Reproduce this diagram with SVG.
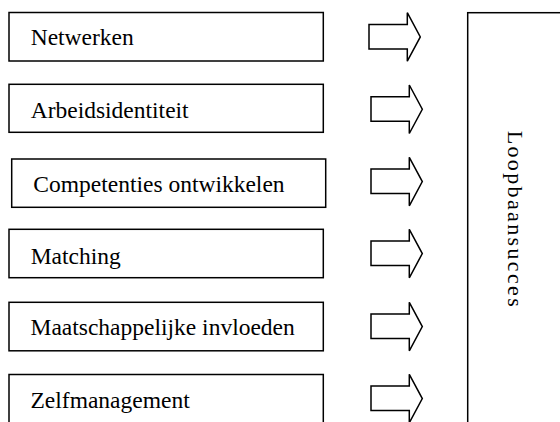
<svg xmlns="http://www.w3.org/2000/svg" xmlns:xlink="http://www.w3.org/1999/xlink" width="560" height="422" viewBox="0 0 560 422">
<style>
.box{fill:#fff;stroke:#000;stroke-width:1.5}
.arrow{fill:#fff;stroke:#000;stroke-width:1.5;stroke-linejoin:miter}
.t{font-family:'Liberation Serif','DejaVu Serif',Times,serif;font-size:23.5px;fill:#000}
</style>
<defs>
<path id="bigArrow" class="arrow" d="M0,11.7 H38.3 V0 L51.3,24.25 L38.3,48.5 V36.3 H0 Z"/>
</defs>
<rect width="560" height="422" fill="#fff"/>
<g id="node-netwerken"><rect class="box" x="9" y="12.5" width="314.3" height="48.5"/><text class="t" x="30.7" y="45">Netwerken</text></g>
<g id="node-arbeidsidentiteit"><rect class="box" x="9" y="84.3" width="314.3" height="48"/><text class="t" x="30.7" y="118.3">Arbeidsidentiteit</text></g>
<g id="node-competenties"><rect class="box" x="11.7" y="159" width="314" height="48.3"/><text class="t" x="33.3" y="191.7">Competenties ontwikkelen</text></g>
<g id="node-matching"><rect class="box" x="9" y="229.3" width="314.3" height="48.4"/><text class="t" x="30.7" y="264">Matching</text></g>
<g id="node-maatschappelijk"><rect class="box" x="9" y="302.3" width="314.3" height="48.5"/><text class="t" x="30.5" y="334.5">Maatschappelijke invloeden</text></g>
<g id="node-zelfmanagement"><rect class="box" x="9" y="374.5" width="314.3" height="48.5"/><text class="t" x="30.5" y="408">Zelfmanagement</text></g>
<g id="node-loopbaansucces"><rect class="box" x="467.7" y="12.7" width="200" height="500"/><text class="t" style="font-size:22px" transform="translate(508.3,130.7) rotate(90)" x="0" y="0" textLength="176" lengthAdjust="spacing">Loopbaansucces</text></g>
<g id="connectors">
<use xlink:href="#bigArrow" transform="translate(369,12.7)"/>
<use xlink:href="#bigArrow" transform="translate(371,85)"/>
<use xlink:href="#bigArrow" transform="translate(371,157.3)"/>
<use xlink:href="#bigArrow" transform="translate(371,229.3)"/>
<use xlink:href="#bigArrow" transform="translate(371,302.3)"/>
<use xlink:href="#bigArrow" transform="translate(371,374.3)"/>
</g>
</svg>
